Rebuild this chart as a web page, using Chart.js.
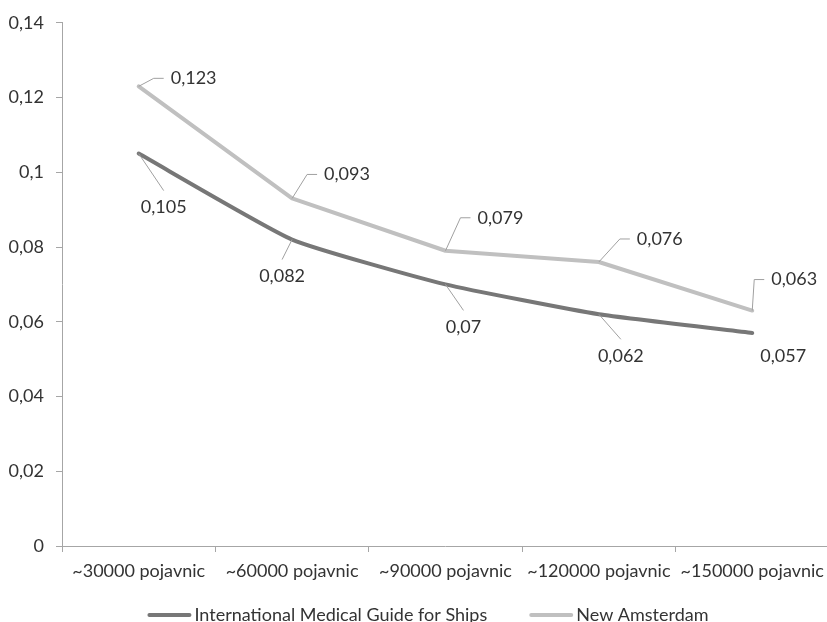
<!DOCTYPE html>
<html>
<head>
<meta charset="utf-8">
<script src="https://cdn.jsdelivr.net/npm/chart.js@4"></script>
<style>
html, body { margin: 0; padding: 0; overflow: hidden; background: #ffffff; }
#wrap { width: 832px; height: 622px; }
</style>
</head>
<body>
<div id="wrap"><canvas id="c" width="832" height="622"></canvas></div>
<script>
// ---- data ----
const categories = ['~30000 pojavnic', '~60000 pojavnic', '~90000 pojavnic', '~120000 pojavnic', '~150000 pojavnic'];
const seriesNames = ['International Medical Guide for Ships', 'New Amsterdam'];
const guideValues = [0.105, 0.082, 0.07, 0.062, 0.057];
const amsterdamValues = [0.123, 0.093, 0.079, 0.076, 0.063];
const yMin = 0, yMax = 0.14, yStep = 0.02;

// ---- label placement (styling, relative to points) ----
const guideLabelOffsets = [[25, 54], [-10, 37], [18, 43], [22, 42], [31, 23]];   // text centre
const guideLeaders = [true, true, true, true, false];
const amsterdamLabelOffsets = [[32, -8], [32, -24], [32, -33], [38, -23], [19, -31]]; // text left, centre y

const FONT_FAMILY = 'Lato, "Open Sans", sans-serif';
const FONT_SIZE = 18;
const TEXT_COLOR = '#333333';
const AXIS_COLOR = '#a6a6a6';
const DARK = '#777777';
const LIGHT = '#c0c0c0';

function fmt(v) {
  const r = Math.round(v * 1000) / 1000;
  return String(r).replace('.', ',');
}

const labelPlugin = {
  id: 'labels',
  afterDatasetsDraw(chart) {
    const ctx = chart.ctx;
    ctx.save();
    ctx.font = FONT_SIZE + 'px ' + FONT_FAMILY;
    ctx.fillStyle = TEXT_COLOR;
    ctx.textBaseline = 'middle';
    ctx.strokeStyle = '#a0a0a0';
    ctx.lineWidth = 1;
    chart.getDatasetMeta(0).data.forEach((pt, i) => {
      const [dx, dy] = guideLabelOffsets[i];
      const cx = pt.x + dx, cy = pt.y + dy;
      if (guideLeaders[i]) {
        ctx.beginPath();
        ctx.moveTo(pt.x, pt.y);
        ctx.lineTo(cx, cy - 17);
        ctx.stroke();
      }
      ctx.textAlign = 'center';
      ctx.fillText(fmt(guideValues[i]), cx, cy);
    });
    chart.getDatasetMeta(1).data.forEach((pt, i) => {
      const [dx, dy] = amsterdamLabelOffsets[i];
      const lx = pt.x + dx, cy = pt.y + dy;
      ctx.beginPath();
      ctx.moveTo(pt.x, pt.y);
      ctx.lineTo(lx - 17, cy);
      ctx.lineTo(lx - 7, cy);
      ctx.stroke();
      ctx.textAlign = 'left';
      ctx.fillText(fmt(amsterdamValues[i]), lx, cy);
    });
    ctx.restore();
  }
};

const legendPlugin = {
  id: 'customLegend',
  afterDraw(chart) {
    const ctx = chart.ctx;
    ctx.save();
    ctx.font = FONT_SIZE + 'px ' + FONT_FAMILY;
    ctx.fillStyle = TEXT_COLOR;
    ctx.textBaseline = 'middle';
    ctx.textAlign = 'left';
    const y = 615;
    const lineLen = 44, gap = 3, itemGap = 42;
    const widths = chart.data.datasets.map(d => lineLen + gap + ctx.measureText(d.label).width);
    const total = widths.reduce((a, b) => a + b, 0) + itemGap * (widths.length - 1);
    let x = 428 - total / 2;
    chart.data.datasets.forEach((d, i) => {
      ctx.strokeStyle = d.borderColor;
      ctx.lineWidth = 4;
      ctx.lineCap = 'round';
      ctx.beginPath();
      ctx.moveTo(x + 2, y);
      ctx.lineTo(x + lineLen - 2, y);
      ctx.stroke();
      ctx.fillText(d.label, x + lineLen + gap, y);
      x += widths[i] + itemGap;
    });
    ctx.restore();
  }
};

new Chart(document.getElementById('c'), {
  type: 'line',
  data: {
    labels: categories,
    datasets: [
      { label: seriesNames[0], data: guideValues, borderColor: DARK, backgroundColor: DARK,
        borderWidth: 4, pointRadius: 0, tension: 0.15, borderCapStyle: 'round', borderJoinStyle: 'round' },
      { label: seriesNames[1], data: amsterdamValues, borderColor: LIGHT, backgroundColor: LIGHT,
        borderWidth: 4, pointRadius: 0, tension: 0, borderCapStyle: 'round', borderJoinStyle: 'round' }
    ]
  },
  options: {
    responsive: false,
    animation: false,
    devicePixelRatio: 1,
    layout: { padding: { top: 20, right: 1, left: 0, bottom: 0 } },
    plugins: { legend: { display: false }, tooltip: { enabled: false } },
    scales: {
      x: {
        type: 'category',
        offset: true,
        grid: { offset: true, drawOnChartArea: false, drawTicks: true, tickLength: 6, color: AXIS_COLOR },
        border: { color: AXIS_COLOR, width: 1 },
        ticks: { font: { family: FONT_FAMILY, size: FONT_SIZE }, color: TEXT_COLOR, padding: 8, maxRotation: 0, autoSkip: false },
        afterFit(s) { s.height = 76; }
      },
      y: {
        min: yMin, max: yMax,
        grid: { drawOnChartArea: false, drawTicks: true, tickLength: 6, color: AXIS_COLOR },
        border: { color: AXIS_COLOR, width: 1 },
        ticks: { stepSize: yStep, padding: 12, font: { family: FONT_FAMILY, size: FONT_SIZE }, color: TEXT_COLOR,
          callback: v => fmt(v) },
        afterFit(s) { s.width = 62; }
      }
    }
  },
  plugins: [labelPlugin, legendPlugin]
});
</script>
</body>
</html>
